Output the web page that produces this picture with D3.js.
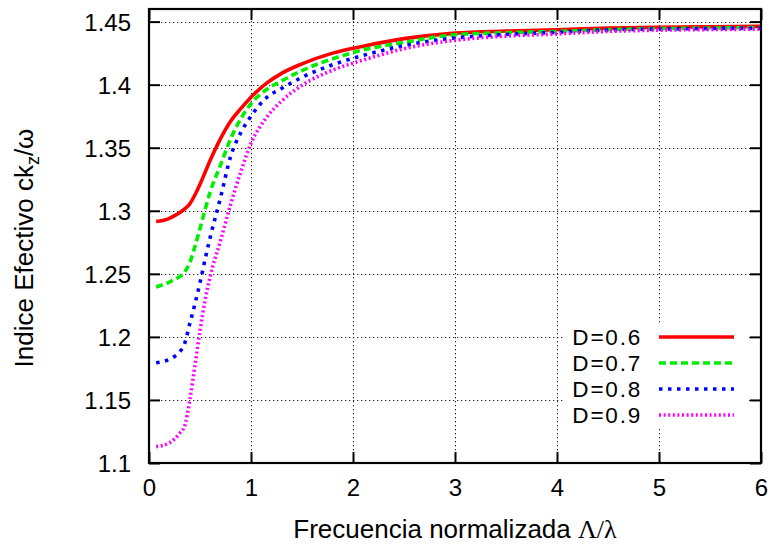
<!DOCTYPE html>
<html>
<head>
<meta charset="utf-8">
<script src="https://cdn.jsdelivr.net/npm/d3@7"></script>
<style>
  html, body { margin: 0; padding: 0; background: #fff; }
  svg { display: block; }
  text { font-family: "Liberation Sans", Arial, Helvetica, sans-serif; fill: #000; }
</style>
</head>
<body>
<svg id="chart" width="772" height="548"></svg>
<script>
// Normalized frequency (Λ/λ) sample points shared by all curves
const freq = [0.07, 0.2, 0.25, 0.3, 0.35, 0.4, 0.45, 0.5, 0.55, 0.6, 0.7, 0.8, 0.9, 1.0, 1.15, 1.3, 1.5, 1.8, 2.1, 2.5, 3.0, 3.5, 4.0, 4.5, 5.0, 5.5, 6.0];

// Effective index ck_z/ω for each filling D
const nD06 = [1.2915, 1.294, 1.2962, 1.2985, 1.3015, 1.3055, 1.3125, 1.321, 1.3305, 1.340, 1.357, 1.371, 1.381, 1.390, 1.401, 1.409, 1.4165, 1.425, 1.4305, 1.4365, 1.4409, 1.4425, 1.4436, 1.4448, 1.4455, 1.4459, 1.4462];
const nD07 = [1.2395, 1.2435, 1.2455, 1.2478, 1.2515, 1.259, 1.2715, 1.286, 1.301, 1.315, 1.336, 1.357, 1.373, 1.385, 1.396, 1.403, 1.4112, 1.4205, 1.4275, 1.4335, 1.4396, 1.4412, 1.4422, 1.4436, 1.4444, 1.4449, 1.4453];
const nD08 = [1.1795, 1.1822, 1.1845, 1.188, 1.1948, 1.2106, 1.226, 1.243, 1.2615, 1.279, 1.310, 1.343, 1.362, 1.375, 1.3896, 1.397, 1.4058, 1.4158, 1.4232, 1.431, 1.437, 1.4398, 1.4415, 1.4434, 1.4441, 1.4445, 1.4448];
const nD09 = [1.113, 1.116, 1.119, 1.1235, 1.1295, 1.150, 1.177, 1.205, 1.229, 1.248, 1.276, 1.305, 1.331, 1.3535, 1.3737, 1.387, 1.3995, 1.4115, 1.4195, 1.4285, 1.4352, 1.4385, 1.4402, 1.4422, 1.4432, 1.4437, 1.444];

const seriesLabels = ["D=0.6", "D=0.7", "D=0.8", "D=0.9"];
const seriesValues = [nD06, nD07, nD08, nD09];

const xTicks = [0, 1, 2, 3, 4, 5, 6];
const yTicks = [1.1, 1.15, 1.2, 1.25, 1.3, 1.35, 1.4, 1.45];
const xDomain = [0, 6];
const yDomain = [1.1, 1.46];

const styles = [
  { color: "#ff0000", dash: null },
  { color: "#00ee00", dash: "7,4" },
  { color: "#0000ff", dash: "3.5,5.5" },
  { color: "#ff00ff", dash: "2,2.6" }
];

const svg = d3.select("#chart");
const W = 772, H = 548;
const m = { left: 149, top: 9, right: 11, bottom: 85 };
const pw = W - m.left - m.right, ph = H - m.top - m.bottom;

const x = d3.scaleLinear().domain(xDomain).range([m.left, m.left + pw]);
const y = d3.scaleLinear().domain(yDomain).range([m.top + ph, m.top]);

// grid
const grid = svg.append("g").attr("stroke", "#222").attr("stroke-width", 1).attr("stroke-dasharray", "1.3,2.7");
grid.selectAll("line.gx").data(xTicks.slice(1, -1)).join("line")
  .attr("x1", d => Math.round(x(d)) + 0.5).attr("x2", d => Math.round(x(d)) + 0.5)
  .attr("y1", m.top).attr("y2", m.top + ph);
grid.selectAll("line.gy").data(yTicks.slice(1)).join("line")
  .attr("y1", d => Math.round(y(d)) + 0.5).attr("y2", d => Math.round(y(d)) + 0.5)
  .attr("x1", m.left).attr("x2", m.left + pw);

// key background
const keyTop = 323, keyRow = 26;
svg.append("rect").attr("x", 563).attr("y", keyTop).attr("width", 186).attr("height", 104).attr("fill", "#fff");

// curves
svg.append("clipPath").attr("id", "plotclip").append("rect")
  .attr("x", m.left).attr("y", m.top).attr("width", pw).attr("height", ph);

const line = d3.line().x((d, i) => x(freq[i])).y(d => y(d)).curve(d3.curveMonotoneX);
const curves = svg.append("g").attr("clip-path", "url(#plotclip)");
seriesValues.forEach((vals, k) => {
  curves.append("path").datum(vals)
    .attr("d", line)
    .attr("fill", "none")
    .attr("stroke", styles[k].color)
    .attr("stroke-width", 3.6)
    .attr("stroke-dasharray", styles[k].dash);
});

// frame and axes
const tickLen = 11;
const axB = svg.append("g").attr("transform", `translate(0,${m.top + ph})`)
  .call(d3.axisBottom(x).tickValues(xTicks).tickFormat(d3.format("d")).tickSizeInner(-tickLen).tickSizeOuter(0));
const axT = svg.append("g").attr("transform", `translate(0,${m.top})`)
  .call(d3.axisTop(x).tickValues(xTicks).tickFormat("").tickSizeInner(-tickLen).tickSizeOuter(0));
const axL = svg.append("g").attr("transform", `translate(${m.left},0)`)
  .call(d3.axisLeft(y).tickValues(yTicks).tickFormat(d => d3.format("")(+d.toFixed(2))).tickSizeInner(-tickLen).tickSizeOuter(0));
const axR = svg.append("g").attr("transform", `translate(${m.left + pw},0)`)
  .call(d3.axisRight(y).tickValues(yTicks).tickFormat("").tickSizeInner(-tickLen).tickSizeOuter(0));

[axB, axT, axL, axR].forEach(a => {
  a.select(".domain").remove();
  a.selectAll(".tick line").attr("stroke", "#000").attr("stroke-width", 2);
  a.selectAll("text").attr("font-size", 24).attr("font-family", "'Liberation Sans', Arial, sans-serif").attr("fill", "#000");
});
axB.selectAll(".tick text").attr("dy", "0.71em").attr("y", 16);
axL.selectAll(".tick text").attr("x", -18).attr("dy", "0.36em");

svg.append("rect").attr("x", m.left).attr("y", m.top).attr("width", pw).attr("height", ph)
  .attr("fill", "none").attr("stroke", "#000").attr("stroke-width", 2.2);

// key
seriesLabels.forEach((lab, k) => {
  const cy = 337 + k * keyRow;
  svg.append("text").attr("x", 642).attr("y", cy).attr("dy", "0.36em")
    .attr("text-anchor", "end").attr("font-size", 22.5).attr("letter-spacing", 1.8).text(lab);
  svg.append("line").attr("x1", 659).attr("x2", 734).attr("y1", cy).attr("y2", cy)
    .attr("stroke", styles[k].color).attr("stroke-width", 3.6)
    .attr("stroke-dasharray", styles[k].dash);
});

// axis titles
const xt = svg.append("text").attr("x", 455).attr("y", 538).attr("text-anchor", "middle").attr("font-size", 26);
xt.append("tspan").text("Frecuencia normalizada ");
xt.append("tspan").attr("font-family", "'Liberation Serif', 'DejaVu Serif', serif").text("Λ/λ");

const yt = svg.append("text").attr("transform", "translate(33,248) rotate(-90)")
  .attr("text-anchor", "middle").attr("font-size", 26);
yt.append("tspan").text("Indice Efectivo ck");
yt.append("tspan").attr("font-size", 18).attr("dy", 6).text("z");
yt.append("tspan").attr("dy", -6).text("/ω");
</script>
</body>
</html>
